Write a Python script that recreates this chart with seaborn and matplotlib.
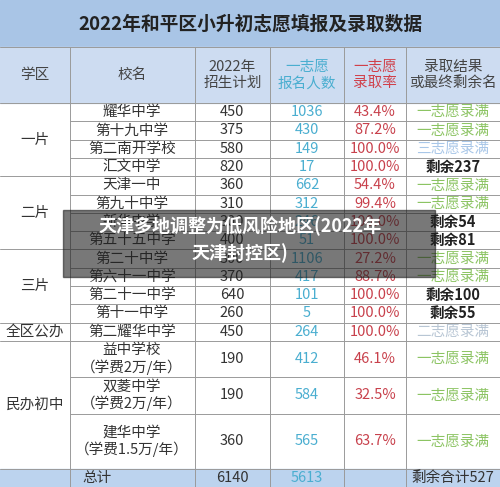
import matplotlib
matplotlib.use("Agg")
import matplotlib.pyplot as plt
import seaborn as sns
from matplotlib.patches import Rectangle

sns.set_theme(style="white")
plt.rcParams['font.family'] = ['Noto Sans CJK SC', 'DejaVu Sans']

title = "2022年和平区小升初志愿填报及录取数据"
headers = ["学区", "校名", "2022年\n招生计划", "一志愿\n报名人数", "一志愿\n录取率", "录取结果\n或最终剩余名"]
districts = [("一片", 0, 4), ("二片", 4, 8), ("三片", 8, 12), ("全区公办", 12, 13), ("民办初中", 13, 16)]
schools = ["耀华中学", "第十九中学", "第二南开学校", "汇文中学", "天津一中", "第九十中学", "新华中学",
           "第五十五中学", "第二十中学", "第六十一中学", "第二十一中学", "第十一中学", "第二耀华中学",
           "益中学校\n（学费2万/年）", "双菱中学\n（学费2万/年）", "建华中学\n（学费1.5万/年）"]
plan = [450, 375, 580, 820, 360, 310, 300, 400, 300, 370, 640, 260, 450, 190, 190, 360]
applicants = [1036, 430, 149, 17, 662, 312, 246, 51, 1106, 417, 101, 5, 264, 412, 584, 565]
rate = ["43.4%", "87.2%", "100.0%", "100.0%", "54.4%", "99.4%", "100.0%", "100.0%", "27.2%",
        "88.7%", "100.0%", "100.0%", "100.0%", "46.1%", "32.5%", "63.7%"]
result = ["一志愿录满", "一志愿录满", "三志愿录满", "剩余237", "一志愿录满", "一志愿录满", "剩余54",
          "剩余81", "一志愿录满", "一志愿录满", "剩余100", "剩余55", "二志愿录满", "一志愿录满",
          "一志愿录满", "一志愿录满"]
total_plan, total_app, total_res = 6140, 5613, "剩余合计527"

W, H = 500, 487
fig = plt.figure(figsize=(5, 4.87), dpi=100)
ax = fig.add_axes([0, 0, 1, 1])
ax.set_xlim(0, W); ax.set_ylim(H, 0); ax.axis("off")

cols = [0, 70, 195, 270, 344, 406, 500]
heights = [18.3] * 13 + [36, 37, 55]
tops = [103]
for h in heights:
    tops.append(tops[-1] + h)
ytot = tops[-1]

ax.add_patch(Rectangle((0, 0), W, 47, color="#a9c5e6"))
ax.add_patch(Rectangle((0, 47), W, 56, color="#cddcf1"))
ax.add_patch(Rectangle((0, ytot), W, H - ytot, color="#bcd3ee"))
ax.text(W / 2, 24, title, ha="center", va="center", fontsize=13.5, color="#222", fontweight="bold")

grid = "#9a9a9a"
for x in cols[1:-1]:
    ax.plot([x, x], [47, H], color=grid, lw=0.7)
ax.plot([0, W], [47, 47], color=grid, lw=0.7)
ax.plot([0, W], [103, 103], color=grid, lw=0.7)
ends = {d[2] for d in districts}
for i in range(1, len(tops)):
    x0 = 0 if i in ends else 70
    ax.plot([x0, W], [tops[i], tops[i]], color=grid, lw=0.7)

hcol = ["#444", "#444", "#444", "#4aaed0", "#d0404a", "#444"]
for j, h in enumerate(headers):
    ax.text((cols[j] + cols[j + 1]) / 2, 75, h, ha="center", va="center", fontsize=10.5,
            color=hcol[j], linespacing=1.25)

fs = 10.5
for name, a, b in districts:
    ax.text(35, (tops[a] + tops[b]) / 2, name, ha="center", va="center", fontsize=fs, color="#333")

rescol = {"一志愿录满": "#8cc463", "三志愿录满": "#a9c7e8", "二志愿录满": "#b8c6d4"}
for i in range(16):
    yc = (tops[i] + tops[i + 1]) / 2
    ax.text(132, yc, schools[i], ha="center", va="center", fontsize=fs, color="#333", linespacing=1.2)
    ax.text(232, yc, str(plan[i]), ha="center", va="center", fontsize=fs, color="#333")
    ax.text(307, yc, str(applicants[i]), ha="center", va="center", fontsize=fs, color="#4aaed0")
    ax.text(375, yc, rate[i], ha="center", va="center", fontsize=fs, color="#c8414c")
    c = rescol.get(result[i], "#222")
    ax.text(453, yc, result[i], ha="center", va="center", fontsize=fs, color=c,
            fontweight="normal" if result[i] in rescol else "bold")

yc = (ytot + H) / 2
ax.text(97, yc, "总计", ha="center", va="center", fontsize=fs, color="#333")
ax.text(232, yc, str(total_plan), ha="center", va="center", fontsize=fs, color="#333")
ax.text(307, yc, str(total_app), ha="center", va="center", fontsize=fs, color="#4aaed0")
ax.text(453, yc, total_res, ha="center", va="center", fontsize=fs, color="#333")

# overlay banner
ax.add_patch(Rectangle((63, 210), 372, 67, color="#1e1e1e", alpha=0.6, zorder=5))
ax.text(240, 226, "天津多地调整为低风险地区(2022年", ha="center", va="center", fontsize=13,
        color="white", fontweight="bold", zorder=6)
ax.text(240, 253, "天津封控区)", ha="center", va="center", fontsize=13,
        color="white", fontweight="bold", zorder=6)

fig.savefig("out.png", dpi=100)
